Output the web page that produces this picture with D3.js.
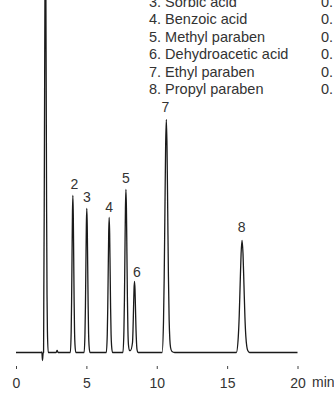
<!DOCTYPE html>
<html>
<head>
<meta charset="utf-8">
<script src="https://cdn.jsdelivr.net/npm/d3@7"></script>
<style>
  html, body { margin: 0; padding: 0; background: #fff; }
  svg { display: block; }
  text { font-family: "Liberation Sans", Arial, Helvetica, sans-serif; fill: #333; }
</style>
</head>
<body>
<svg id="chart" width="334" height="394"></svg>
<script>
// ---- data ----
const legendNames = ["3. Sorbic acid", "4. Benzoic acid", "5. Methyl paraben",
  "6. Dehydroacetic acid", "7. Ethyl paraben", "8. Propyl paraben"];
const legendValues = ["0.", "0.", "0.", "0.", "0.", "0."];

const peakLabels = ["2", "3", "4", "5", "6", "7", "8"];
const peakTimes  = [4.04, 5.03, 6.62, 7.81, 8.42, 10.68, 16.06];
const peakHeights = [157, 144, 135, 163, 71, 233, 112];

const xTicks = [0, 5, 10, 15, 20];
const xUnit = "min";

// chromatogram trace (time in min, detector signal)
const traceTime = [
  0, 1.80, 1.84, 1.88, 1.93,
  1.96, 1.976, 2.004, 2.033, 2.062, 2.09, 2.118, 2.147, 2.176, 2.204, 2.232, 2.29,
  2.85, 2.92, 2.99,
  3.86, 3.92, 3.95, 3.98, 4.01, 4.04, 4.07, 4.10, 4.13, 4.16, 4.19, 4.25,
  4.84, 4.90, 4.934, 4.966, 4.998, 5.03, 5.062, 5.094, 5.126, 5.158, 5.19, 5.254,
  6.416, 6.484, 6.518, 6.552, 6.586, 6.62, 6.654, 6.688, 6.722, 6.756, 6.79, 6.858,
  7.597, 7.668, 7.704, 7.739, 7.775, 7.81, 7.846, 7.881, 7.917, 7.952, 7.988, 8.06,
  8.13,
  8.278, 8.314, 8.349, 8.385, 8.42, 8.455, 8.491, 8.526, 8.562, 8.598, 8.67,
  10.38, 10.48, 10.53, 10.58, 10.63, 10.68, 10.73, 10.78, 10.83, 10.88, 10.93, 10.98, 11.08, 11.28,
  15.655, 15.79, 15.858, 15.925, 15.993, 16.06, 16.128, 16.195, 16.263, 16.33, 16.398, 16.465, 16.6,
  20
];
const traceSignal = [
  0, 0, 0.5, -8, -0.5,
  0, 58, 140, 261, 379, 430, 379, 261, 140, 58, 22, 0,
  0, 2, 0,
  0, 21, 51, 95, 138, 157, 138, 95, 51, 21, 8, 0,
  0, 19, 47, 87, 127, 144, 127, 87, 47, 19, 7, 0,
  0, 18, 44, 82, 119, 135, 119, 82, 44, 18, 7, 0,
  0, 22, 53, 99, 144, 163, 144, 99, 53, 22, 8, 2,
  2,
  10, 23, 43, 63, 71, 63, 43, 23, 10, 3, 0,
  0, 31, 76, 141, 205, 233, 205, 141, 76, 33, 13, 5, 1, 0,
  0, 15, 36, 68, 99, 112, 99, 68, 36, 16, 6, 2, 0,
  0
];

// ---- layout ----
const svg = d3.select("#chart");
const x = d3.scaleLinear().domain([0, 20]).range([16, 297.5]);
const y = d3.scaleLinear().domain([0, 350]).range([352.5, 2.5]);

// legend (cropped at the top)
const legendY0 = 6.5, legendStep = 17.5;
svg.append("g").selectAll("text.name").data(legendNames).join("text")
  .attr("class", "name")
  .attr("x", 149).attr("y", (d, i) => legendY0 + i * legendStep)
  .style("font-size", "14.5px").text(d => d);
svg.append("g").selectAll("text.val").data(legendValues).join("text")
  .attr("class", "val")
  .attr("x", 321).attr("y", (d, i) => legendY0 + i * legendStep)
  .style("font-size", "14.5px").text(d => d);

// trace
const pts = traceTime.map((t, i) => [t, traceSignal[i]]);
const line = d3.line().x(d => x(d[0])).y(d => y(d[1])).curve(d3.curveMonotoneX);
svg.append("path").datum(pts)
  .attr("d", line)
  .attr("fill", "none")
  .attr("stroke", "#1a1a1a")
  .attr("stroke-width", 1.3)
  .attr("stroke-linejoin", "round");

// peak labels
const labelDx = [1.5, 0, 0, 0, 2.5, -1, -0.5];
const labelGap = [6.5, 6.5, 6, 7, 4.5, 7.5, 9];
svg.append("g").selectAll("text").data(peakLabels).join("text")
  .attr("x", (d, i) => x(peakTimes[i]) + labelDx[i])
  .attr("y", (d, i) => y(peakHeights[i]) - labelGap[i])
  .attr("text-anchor", "middle")
  .style("font-size", "14px")
  .text(d => d);

// x axis (ticks only, no domain line)
const axis = d3.axisBottom(x).tickValues(xTicks).tickSize(3).tickPadding(9)
  .tickFormat(d3.format("d"));
const gx = svg.append("g").attr("transform", "translate(0,366)").call(axis);
gx.select(".domain").remove();
gx.selectAll(".tick line").attr("stroke", "#444").attr("stroke-width", 1);
gx.selectAll(".tick text").style("font-size", "14px").style("font-family", "Liberation Sans, Arial, sans-serif").attr("fill", "#333");
svg.append("text").attr("x", 312).attr("y", 387).style("font-size", "14px").text(xUnit);
</script>
</body>
</html>
